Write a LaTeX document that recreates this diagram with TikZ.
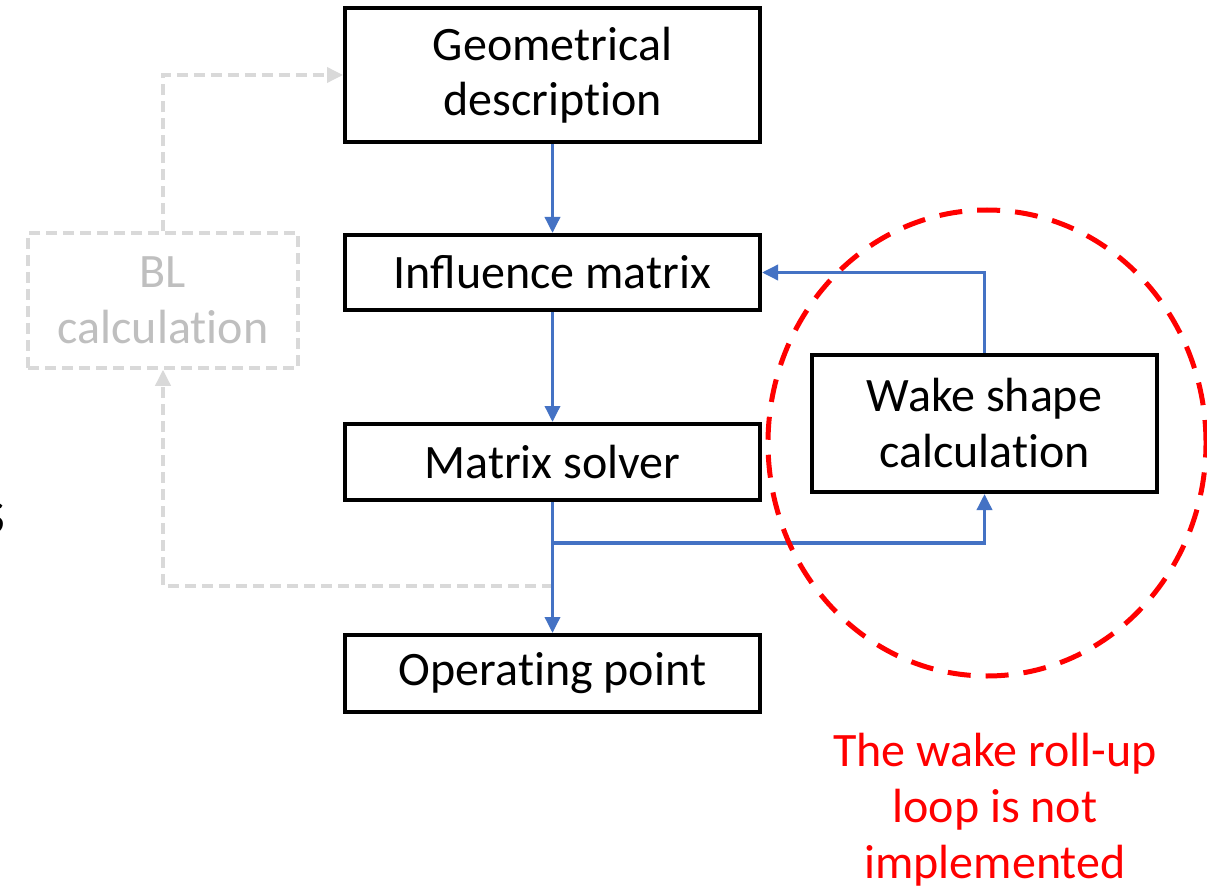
\documentclass[tikz,border=0pt]{standalone}
\usepackage{fontspec}
\setmainfont{Carlito}
\usetikzlibrary{arrows.meta}
\definecolor{flowblue}{HTML}{4472C4}
\definecolor{lightline}{HTML}{D9D9D9}
\definecolor{lighttext}{HTML}{BFBFBF}
\newcommand\nlg{\kern0pt}
\begin{document}
\begin{tikzpicture}[x=1pt,y=-1pt,
  box/.style={draw=black,line width=4pt,minimum width=415pt,align=center,inner sep=0pt,
     font=\fontsize{48}{56}\selectfont},
  ghostbox/.style={draw=lightline,line width=3.5pt,dash pattern=on 11pt off 6pt,
     minimum width=270pt,minimum height=135pt,align=center,inner sep=0pt,text=lighttext,
     font=\fontsize{48}{56}\selectfont},
  flow/.style={draw=flowblue,line width=3.5pt,-{Triangle[length=16pt,width=15pt]}},
  ghost/.style={draw=lightline,line width=3.5pt,dash pattern=on 11pt off 6pt,
     -{Triangle[length=16pt,width=15pt]}},
  note/.style={text=red,align=center,font=\fontsize{48}{56}\selectfont}]
\useasboundingbox (0,0) rectangle (1207,890);
\fill[white] (0,0) rectangle (1207,890);

\node[box,minimum height=134pt] (geo) at (552.5,75) {Geometrical\\[-1pt]descript\nlg ion};
\node[box,minimum height=75pt] (infl) at (552.5,272.5) {Influence matrix};
\node[box,minimum height=76pt] (ms) at (552.5,462) {Matrix solver};
\node[box,minimum height=77pt] (op) at (552.5,673.5) {Operat\nlg ing point};
\node[box,minimum width=345pt,minimum height=137pt] (wake) at (984.5,423.5) {Wake shape\\calculat\nlg ion};
\node[ghostbox] (bl) at (163,300.5) {BL\\calculat\nlg ion};

\coordinate (b1) at (552.5,543);
\coordinate (g1) at (552.5,586);

\draw[ghost] (g1) -| (bl.south);
\draw[ghost] (bl.north) |- (geo.west);

\draw[flow] (geo.south) -- (infl.north);
\draw[flow] (infl.south) -- (ms.north);
\draw[flow] (ms.south) -- (op.north);
\draw[flow] (b1) -| (wake.south);
\draw[flow] (wake.north) |- (infl.east);

\draw[red,line width=5pt,dash pattern=on 23pt off 15pt] (987,443) ellipse [x radius=219pt,y radius=233pt];

\node[note] (txt) at (995,810) {The wake roll-up\\loop is not\\implemented};

\node[anchor=base east,inner sep=0pt,font=\fontsize{64}{70}\selectfont] (cut) at (6,533) {s};
\end{tikzpicture}
\end{document}
